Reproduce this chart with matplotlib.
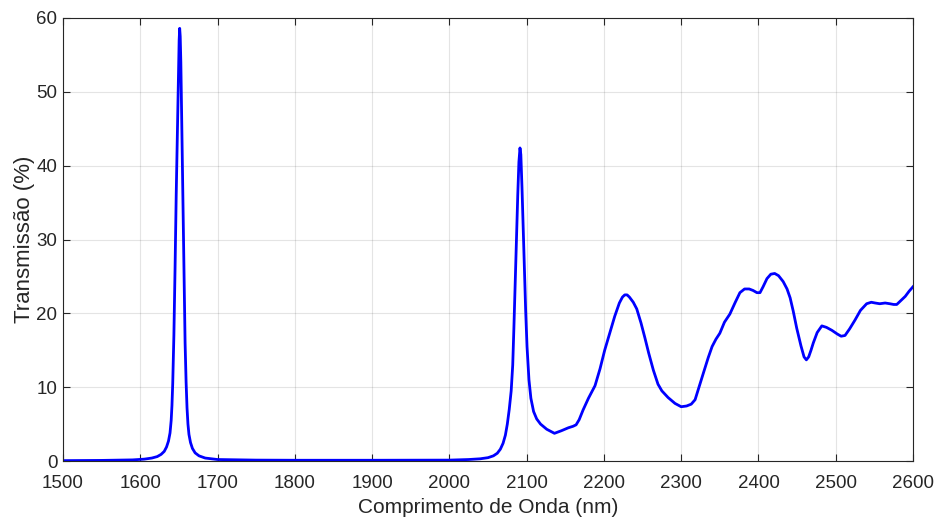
import matplotlib
matplotlib.use("Agg")
import matplotlib.pyplot as plt

wavelength = [1500, 1550, 1590, 1605, 1615, 1622, 1627, 1631, 1634, 1636.5, 1638.5, 1640,
              1641, 1642, 1643.5, 1645, 1646.5, 1648.3, 1649.5, 1650.3, 1651, 1651.7,
              1652.5, 1653.5, 1655, 1656.5, 1658, 1659.3, 1660.5, 1661.7, 1663, 1665,
              1667.5, 1671, 1676, 1684, 1700, 1750, 1800, 1900, 2000, 2025, 2040, 2050,
              2057, 2062, 2066, 2069.5, 2072.5, 2075, 2077.5, 2080, 2082, 2083.5, 2085,
              2086.5, 2088.5, 2090, 2091.4, 2092.5, 2094, 2095.7, 2097, 2098.7, 2100.5,
              2103, 2105.5, 2109, 2113, 2118, 2126, 2136, 2145, 2154, 2160, 2164, 2168,
              2173, 2180, 2188.5, 2195, 2201, 2208, 2214, 2220, 2224, 2227, 2230, 2233,
              2238, 2242.5, 2248, 2253, 2258, 2264, 2270, 2275, 2283, 2292, 2300, 2307,
              2313, 2318, 2323, 2329, 2335, 2340, 2345, 2350, 2356, 2363, 2370, 2376,
              2382, 2388, 2393, 2398, 2402, 2406, 2411, 2416, 2421, 2426, 2432, 2437,
              2441, 2445, 2449.5, 2455, 2459, 2462, 2465, 2468, 2471, 2476, 2482, 2488,
              2495, 2502, 2507, 2512, 2518, 2525, 2532, 2540, 2546, 2551, 2557, 2564,
              2570, 2575, 2579, 2584, 2590, 2595, 2600]
transmission = [0.05, 0.08, 0.15, 0.25, 0.4, 0.6, 0.9, 1.3, 1.9, 2.7, 3.8, 5.5,
                7.5, 10.5, 17, 26, 36, 46, 53, 57, 58.6, 57.5,
                54, 47, 36, 25, 16, 10.7, 7.2, 5, 3.6, 2.5,
                1.7, 1.1, 0.7, 0.4, 0.2, 0.12, 0.1, 0.1, 0.12, 0.2, 0.3, 0.45,
                0.7, 1.05, 1.6, 2.4, 3.5, 5, 7, 9.5, 13, 18, 23.5,
                29, 36, 40.5, 42.4, 41.5, 37, 31, 26, 20.5, 15.5,
                11, 8.5, 6.7, 5.7, 5.0, 4.3, 3.75, 4.1, 4.5, 4.7, 4.9, 5.6,
                6.9, 8.5, 10.2, 12.5, 15, 17.5, 19.6, 21.4, 22.2, 22.5, 22.5, 22.2,
                21.5, 20.6, 18.7, 16.7, 14.6, 12.3, 10.4, 9.5, 8.6, 7.8, 7.35, 7.45,
                7.7, 8.3, 10, 12, 14, 15.5, 16.5, 17.3, 18.8, 19.9, 21.5, 22.8,
                23.3, 23.3, 23.1, 22.8, 22.8, 23.6, 24.7, 25.3, 25.4, 25.1, 24.3, 23.3,
                22.1, 20.3, 18.0, 15.6, 14.1, 13.7, 14.1, 15.0, 16.0, 17.4, 18.3, 18.1,
                17.7, 17.2, 16.9, 17.0, 17.9, 19.1, 20.4, 21.3,
                21.5, 21.4, 21.3, 21.4, 21.3, 21.2, 21.2, 21.7, 22.3, 23.0, 23.6]

x_ticks = [1500, 1600, 1700, 1800, 1900, 2000, 2100, 2200, 2300, 2400, 2500, 2600]
y_ticks = [0, 10, 20, 30, 40, 50, 60]

plt.rcParams['font.family'] = ['Liberation Sans', 'DejaVu Sans']
dark = (0.15, 0.15, 0.15)

fig = plt.figure(figsize=(9.4, 5.23), dpi=100)
ax = fig.add_axes([63/940, 62/523, 850/940, 443/523])
ax.plot(wavelength, transmission, color=(0, 0, 1), lw=2.0, solid_joinstyle='round')
ax.set_xlim(1500, 2600)
ax.set_ylim(0, 60)
ax.set_xticks(x_ticks)
ax.set_yticks(y_ticks)
ax.grid(True, color=(0.15, 0.15, 0.15), alpha=0.12, lw=0.8)
ax.tick_params(direction='in', length=5, width=0.8, colors=dark, labelsize=13.5,
               top=True, right=True)
ax.tick_params(axis='x', pad=10)
ax.tick_params(axis='y', pad=4)
for s in ax.spines.values():
    s.set_color(dark)
    s.set_linewidth(0.8)
ax.set_xlabel('Comprimento de Onda (nm)', fontsize=15, color=dark, labelpad=4.5)
ax.set_ylabel('Transmissão (%)', fontsize=16, color=dark, labelpad=1)
fig.savefig('out.png', dpi=100)
